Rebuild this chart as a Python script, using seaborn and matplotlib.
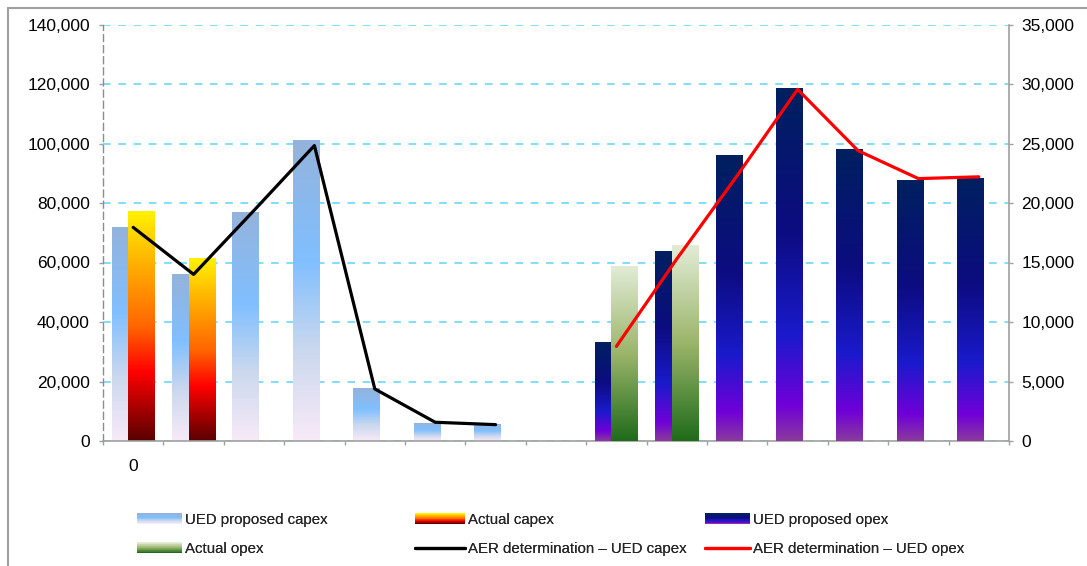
import numpy as np
import matplotlib
matplotlib.use("Agg")
import matplotlib.pyplot as plt
import seaborn as sns
from matplotlib.colors import LinearSegmentedColormap
from matplotlib.legend_handler import HandlerBase
from matplotlib.patches import Rectangle
from matplotlib.lines import Line2D
from matplotlib.ticker import FuncFormatter

# ---------------- data ----------------
n_categories = 15
tick_labels = ["0"] + [""] * 14

capex_cats = [0, 1, 2, 3, 4, 5, 6]
ued_capex = [71800, 56100, 76900, 101000, 17500, 6000, 5400]
actual_capex_cats = [0, 1]
actual_capex = [77000, 61200]
aer_capex = [71800, 56000, 77500, 99300, 17500, 6300, 5500]

opex_cats = [8, 9, 10, 11, 12, 13, 14]
ued_opex = [8300, 15900, 23950, 29600, 24500, 21900, 22100]
actual_opex_cats = [8, 9]
actual_opex = [14700, 16450]
aer_opex = [7950, 15300, 22300, 29550, 24400, 22050, 22200]

series_names = ["UED proposed capex", "Actual capex", "UED proposed opex",
                "Actual opex", "AER determination \u2013 UED capex",
                "AER determination \u2013 UED opex"]

# ---------------- style ----------------
sns.set_style("white")
plt.rcParams["font.family"] = ["Liberation Sans", "DejaVu Sans"]

cm_ued_capex = LinearSegmentedColormap.from_list(
    "uc", [(0, "#f8eaf8"), (0.3, "#cbd8ee"), (0.6, "#80bfff"), (1, "#94b3dc")])
cm_act_capex = LinearSegmentedColormap.from_list(
    "ac", [(0, "#5a0000"), (0.3, "#ff0000"), (0.5, "#ff6600"), (0.75, "#ffaa00"), (1, "#fff200")])
cm_ued_opex = LinearSegmentedColormap.from_list(
    "uo", [(0, "#8a3a9e"), (0.1, "#7000d8"), (0.3, "#1a1acc"), (0.6, "#0c0c80"), (1, "#00205f")])
cm_act_opex = LinearSegmentedColormap.from_list(
    "ao", [(0, "#1f6b1a"), (0.5, "#9bb56a"), (1, "#e2ecd6")])

GRID_C = "#5cd6f5"
AX_C = "#a0a0a0"
BAR_W = 0.442
OFF = 0.138

fig = plt.figure(figsize=(10.87, 5.66), dpi=100)
ax = fig.add_axes([103 / 1087, 125 / 566, 906 / 1087, 416.5 / 566])
ax2 = ax.twinx()

grad = np.linspace(0, 1, 256).reshape(-1, 1)


def grad_bars(axis, cats, vals, cmap, offset):
    before = list(axis.patches)
    sns.barplot(x=np.asarray(cats, dtype=float) + offset, y=vals, native_scale=True,
                width=BAR_W, orient="x", errorbar=None, ax=axis, color=cmap(0.5))
    new = [p for p in axis.patches if p not in before]
    for p in new:
        x0, y0, w, h = p.get_x(), p.get_y(), p.get_width(), p.get_height()
        axis.imshow(grad, extent=[x0, x0 + w, y0, y0 + h], origin="lower",
                    aspect="auto", cmap=cmap, zorder=1.5, interpolation="bilinear")
        p.set_facecolor("none")
        p.set_edgecolor("none")


grad_bars(ax, capex_cats, ued_capex, cm_ued_capex, -OFF)
grad_bars(ax, actual_capex_cats, actual_capex, cm_act_capex, OFF)
grad_bars(ax2, opex_cats, ued_opex, cm_ued_opex, -OFF)
grad_bars(ax2, actual_opex_cats, actual_opex, cm_act_opex, OFF)

sns.lineplot(x=capex_cats, y=aer_capex, ax=ax, color="black", linewidth=2.3,
             zorder=4, solid_joinstyle="round", solid_capstyle="round")
sns.lineplot(x=opex_cats, y=aer_opex, ax=ax2, color="#ff0000", linewidth=2.3,
             zorder=4, solid_joinstyle="round", solid_capstyle="round")

# ---------------- axes ----------------
ax.set_xlim(-0.5, n_categories - 0.5)
ax.set_ylim(0, 140000)
ax2.set_ylim(0, 35000)
for a in (ax, ax2):
    a.set_xlabel("")
    a.set_ylabel("")
    a.set_facecolor("none")
ax.patch.set_visible(False)
ax2.patch.set_visible(False)

ax.set_yticks(np.arange(0, 140001, 20000))
ax2.set_yticks(np.arange(0, 35001, 5000))
fmt = FuncFormatter(lambda v, p: f"{v:,.0f}")
ax.yaxis.set_major_formatter(fmt)
ax2.yaxis.set_major_formatter(fmt)

ax.set_axisbelow(True)
ax.yaxis.grid(True, color=GRID_C, linestyle=(0, (5, 5)), linewidth=1.1)
ax.xaxis.grid(False)

ax.set_xticks(range(n_categories))
ax.set_xticklabels(tick_labels)
ax.set_xticks(np.arange(-0.5, n_categories, 1), minor=True)
ax.tick_params(axis="x", which="major", length=0, pad=13, labelsize=12.5, colors="black")
ax.tick_params(axis="x", which="minor", bottom=True, length=3, width=1, color=AX_C, direction="out")
ax.tick_params(axis="y", which="major", left=True, length=3, width=1, color=AX_C,
               direction="out", pad=6.5, labelsize=12.5, labelcolor="black")
ax2.tick_params(axis="y", which="major", right=True, length=3, width=1, color=AX_C,
                direction="out", pad=6, labelsize=12.5, labelcolor="black")

for a in (ax, ax2):
    a.spines["top"].set_visible(False)
ax.spines["right"].set_visible(False)
ax2.spines["left"].set_visible(False)
ax2.spines["bottom"].set_visible(False)
ax.spines["left"].set_color("#8c8c8c")
ax.spines["left"].set_linestyle((0, (5, 3)))
ax.spines["left"].set_linewidth(1.0)
ax.spines["bottom"].set_color(AX_C)
ax.spines["bottom"].set_linewidth(1.2)
ax2.spines["right"].set_color(AX_C)
ax2.spines["right"].set_linewidth(1.2)

# ---------------- legend ----------------
class GradHandler(HandlerBase):
    def __init__(self, cmap):
        super().__init__()
        self.cmap = cmap

    def create_artists(self, legend, orig_handle, xdescent, ydescent, width, height,
                       fontsize, trans):
        n = 16
        arts = []
        for i in range(n):
            r = Rectangle((-xdescent, -ydescent + i * height / n), width, height / n * 1.08,
                          facecolor=self.cmap(i / (n - 1)), edgecolor="none",
                          linewidth=0, transform=trans)
            arts.append(r)
        return arts


h_uc, h_ac, h_uo, h_ao = (Rectangle((0, 0), 1, 1) for _ in range(4))
hmap = {h_uc: GradHandler(cm_ued_capex), h_ac: GradHandler(cm_act_capex),
        h_uo: GradHandler(cm_ued_opex), h_ao: GradHandler(cm_act_opex)}
l_capex = Line2D([], [], color="black", linewidth=2.3)
l_opex = Line2D([], [], color="#ff0000", linewidth=2.3)

columns = [([h_uc, h_ao], [series_names[0], series_names[3]], 137, 3.0),
           ([h_ac, l_capex], [series_names[1], series_names[4]], 415, 3.3),
           ([h_uo, l_opex], [series_names[2], series_names[5]], 705, 3.0)]
for handles, labels, xpix, hl in columns:
    lg = fig.legend(handles, labels, handler_map=hmap, loc="upper left",
                    bbox_to_anchor=(xpix / 1087, 1 - 513 / 566), frameon=False,
                    borderpad=0, borderaxespad=0, fontsize=10.8, handlelength=hl,
                    handleheight=0.7, handletextpad=0.2, labelspacing=1.0)
    fig.add_artist(lg)

# figure border (left and top visible)
fig.add_artist(Line2D([8 / 1087, 8 / 1087], [0, 1 - 8 / 566], transform=fig.transFigure,
                      color="#a0a0a0", linewidth=1.5))
fig.add_artist(Line2D([8 / 1087, 1], [1 - 8 / 566, 1 - 8 / 566], transform=fig.transFigure,
                      color="#a0a0a0", linewidth=1.5))

fig.savefig("out.png", dpi=100)
